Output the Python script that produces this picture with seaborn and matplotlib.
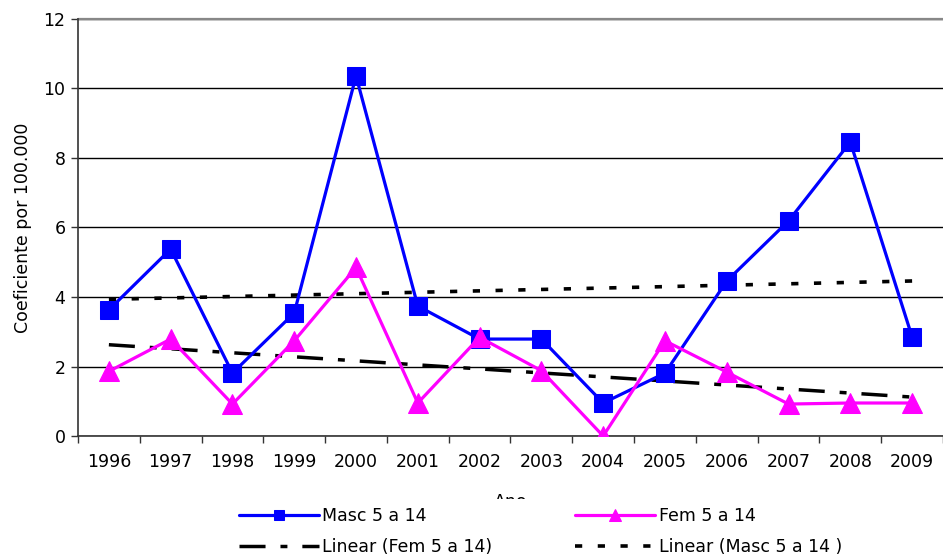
import numpy as np
import pandas as pd
import matplotlib
matplotlib.use("Agg")
import matplotlib.pyplot as plt
import seaborn as sns

years = [1996, 1997, 1998, 1999, 2000, 2001, 2002, 2003, 2004, 2005, 2006, 2007, 2008, 2009]
masc = [3.63, 5.38, 1.81, 3.54, 10.36, 3.74, 2.79, 2.79, 0.95, 1.81, 4.46, 6.19, 8.46, 2.85]
fem = [1.86, 2.79, 0.92, 2.74, 4.85, 0.95, 2.84, 1.88, 0.00, 2.74, 1.84, 0.92, 0.95, 0.95]
y_ticks = [0, 2, 4, 6, 8, 10, 12]

sns.set_theme(style="white")
plt.rcParams["font.family"] = ["DejaVu Sans"]

df = pd.DataFrame({"Ano": years, "Masc": masc, "Fem": fem})

# least-squares trend lines over the years
fem_fit = np.polyval(np.polyfit(years, fem, 1), years)
masc_fit = np.polyval(np.polyfit(years, masc, 1), years)

fig = plt.figure(figsize=(9.43, 5.58), dpi=100)
ax = fig.add_axes([0.0827, 0.2186, 0.9173, 0.7474])

sns.lineplot(data=df, x="Ano", y="Masc", ax=ax, color="#0000FF", linewidth=2.3,
             marker="s", markersize=12.5, markeredgecolor="#0000FF",
             label="Masc 5 a 14", zorder=4)
sns.lineplot(x=years, y=fem_fit, ax=ax, color="black", linewidth=2.5,
             label="Linear (Fem 5 a 14)", zorder=3)
sns.lineplot(data=df, x="Ano", y="Fem", ax=ax, color="#FF00FF", linewidth=2.3,
             marker="^", markersize=14, markeredgecolor="#FF00FF",
             label="Fem 5 a 14", zorder=5)
sns.lineplot(x=years, y=masc_fit, ax=ax, color="black", linewidth=2.6,
             label="Linear (Masc 5 a 14 )", zorder=3)

lines = ax.get_lines()
lines[1].set_dashes([7.5, 4.3, 2.0, 4.3])
lines[3].set_dashes([2.0, 4.3])

ax.set_xlim(years[0] - 0.5, years[-1] + 0.5)
ax.set_ylim(0, 12)
ax.set_yticks(y_ticks)
ax.set_xticks(years)
ax.set_xticks([y - 0.5 for y in years] + [years[-1] + 0.5], minor=True)
ax.tick_params(axis="x", which="major", length=0, pad=12, labelsize=12.5, colors="black")
ax.tick_params(axis="x", which="minor", length=5, width=1, color="#333333", bottom=True)
ax.tick_params(axis="y", length=5, width=1, color="#333333", left=True, pad=4,
               labelsize=12.5, colors="black")

ax.yaxis.grid(True, color="black", linewidth=1)
ax.xaxis.grid(False)
for s in ["top", "right"]:
    ax.spines[s].set_visible(False)
for s in ["left", "bottom"]:
    ax.spines[s].set_color("#333333")
    ax.spines[s].set_linewidth(1.2)
ax.axhline(12, color="#888888", linewidth=1.6, zorder=1, clip_on=False)

ax.set_ylabel("Coeficiente por 100.000", fontsize=12.5, color="black", labelpad=8)
ax.set_xlabel("Ano", fontsize=12.5, color="black", labelpad=16)

handles, labels = ax.get_legend_handles_labels()
leg = fig.legend(handles, labels, ncol=2, loc="center",
                 bbox_to_anchor=(0.573, 0.0475), frameon=True, fontsize=12.5,
                 handlelength=4.6, handletextpad=0.2, columnspacing=4.8,
                 labelspacing=0.75, borderpad=0.45, markerscale=0.6,
                 labelcolor="black")
leg.get_frame().set_facecolor("white")
leg.get_frame().set_edgecolor("none")
leg.get_frame().set_alpha(1)
leg.set_zorder(10)
ax.get_legend().remove()

fig.savefig("out.png", dpi=100, facecolor="white")
